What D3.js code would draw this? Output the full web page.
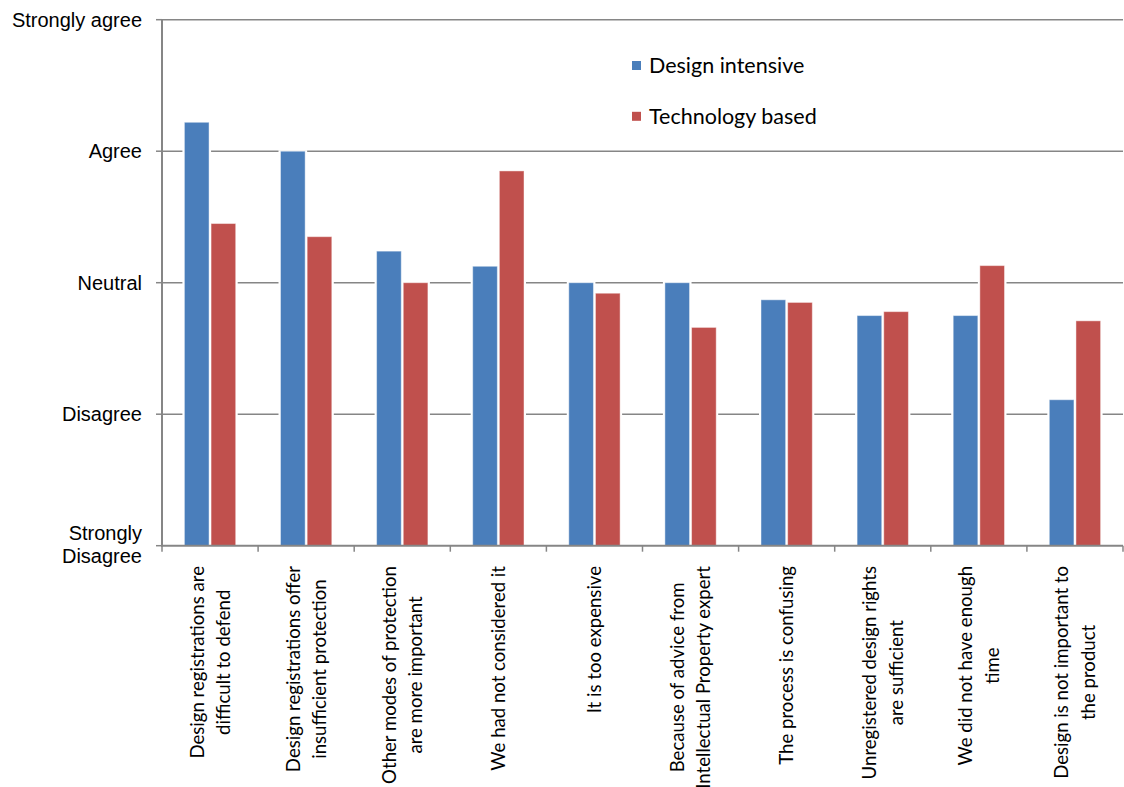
<!DOCTYPE html>
<html>
<head>
<meta charset="utf-8">
<script src="https://cdn.jsdelivr.net/npm/d3@7"></script>
<style>
  html, body { margin: 0; padding: 0; background: #fff; }
  svg { display: block; }
</style>
</head>
<body>
<svg id="chart" width="1124" height="787"></svg>
<script>
// Reasons for not registering designs: mean agreement by firm type (1 = strongly disagree, 5 = strongly agree)
const categories = [
  ["Design registrations are", "difficult to defend"],
  ["Design registrations offer", "insufficient protection"],
  ["Other modes of protection", "are more important"],
  ["We had not considered it"],
  ["It is too expensive"],
  ["Because of advice from", "Intellectual Property expert"],
  ["The process is confusing"],
  ["Unregistered design rights", "are sufficient"],
  ["We did not have enough", "time"],
  ["Design is not important to", "the product"]
];
const seriesNames = ["Design intensive", "Technology based"];
const designIntensive = [4.22, 4.00, 3.24, 3.125, 3.00, 3.00, 2.87, 2.75, 2.75, 2.11];
const technologyBased = [3.45, 3.35, 3.00, 3.85, 2.92, 2.66, 2.85, 2.78, 3.13, 2.71];
const tickValues = [1, 2, 3, 4, 5];
const tickLabels = [["Strongly", "Disagree"], ["Disagree"], ["Neutral"], ["Agree"], ["Strongly agree"]];
const colors = ["#4A7EBB", "#C0504D"];

const svg = d3.select("#chart");
const plotLeft = 162, plotRight = 1123, plotTop = 19.7, plotBottom = 545.7;

const keys = categories.map((c, i) => "c" + i);
const x0 = d3.scaleBand().domain(keys).range([plotLeft, plotRight]).padding(0);
const x1 = d3.scaleBand().domain(seriesNames).range([0, x0.bandwidth()])
  .paddingInner(0.075).paddingOuter(0.84);
const y = d3.scaleLinear().domain([1, 5]).range([plotBottom, plotTop]);

const axisColor = "#868686";

// horizontal gridlines
svg.append("g")
  .selectAll("line")
  .data(tickValues.slice(1))
  .join("line")
  .attr("x1", plotLeft).attr("x2", plotRight)
  .attr("y1", d => y(d)).attr("y2", d => y(d))
  .attr("stroke", axisColor).attr("stroke-width", 1.5);

// bars
const rows = keys.map((k, i) => ({ key: k, values: [designIntensive[i], technologyBased[i]] }));
const groups = svg.append("g").selectAll("g")
  .data(rows).join("g")
  .attr("transform", d => `translate(${x0(d.key)},0)`);

// white halo behind each bar so gridlines stop short of it
groups.selectAll("rect.halo")
  .data(d => d.values.map((v, j) => ({ v, s: seriesNames[j], j })))
  .join("rect")
  .attr("class", "halo")
  .attr("x", d => x1(d.s) - 2)
  .attr("width", x1.bandwidth() + 4)
  .attr("y", d => y(d.v) - 1)
  .attr("height", d => plotBottom - y(d.v) + 1)
  .attr("fill", "#fff");

groups.selectAll("rect.bar")
  .data(d => d.values.map((v, j) => ({ v, s: seriesNames[j], j })))
  .join("rect")
  .attr("class", "bar")
  .attr("x", d => x1(d.s))
  .attr("width", x1.bandwidth())
  .attr("y", d => y(d.v))
  .attr("height", d => plotBottom - y(d.v))
  .attr("fill", d => colors[d.j])
  .attr("stroke", "rgba(255,255,255,0.45)")
  .attr("stroke-width", 1);

// y axis
const yAxis = svg.append("g");
yAxis.append("line")
  .attr("x1", plotLeft).attr("x2", plotLeft)
  .attr("y1", plotTop).attr("y2", plotBottom + 1)
  .attr("stroke", axisColor).attr("stroke-width", 2);
yAxis.selectAll("line.tick")
  .data(tickValues).join("line")
  .attr("class", "tick")
  .attr("x1", plotLeft - 6).attr("x2", plotLeft)
  .attr("y1", d => y(d)).attr("y2", d => y(d))
  .attr("stroke", axisColor).attr("stroke-width", 1.5);
yAxis.selectAll("text")
  .data(tickValues).join("text")
  .attr("x", 142)
  .attr("text-anchor", "end")
  .attr("font-family", "Liberation Sans, Arial, sans-serif")
  .attr("font-size", 20)
  .attr("fill", "#000")
  .each(function(d, i) {
    const lines = tickLabels[i];
    const t = d3.select(this);
    lines.forEach((ln, k) => {
      const base = lines.length === 1 ? y(d) + 7.2 : y(d) - 5.7 + k * 22.7;
      t.append("tspan").attr("x", 142).attr("y", base).text(ln);
    });
  });

// x axis
const xAxis = svg.append("g");
xAxis.append("line")
  .attr("x1", plotLeft - 1).attr("x2", plotRight)
  .attr("y1", plotBottom).attr("y2", plotBottom)
  .attr("stroke", axisColor).attr("stroke-width", 2);
const tickXs = keys.map(k => x0(k)).concat([plotRight]);
xAxis.selectAll("line.tick")
  .data(tickXs).join("line")
  .attr("class", "tick")
  .attr("x1", d => d).attr("x2", d => d)
  .attr("y1", plotBottom).attr("y2", plotBottom + 6)
  .attr("stroke", axisColor).attr("stroke-width", 1.5);

// rotated category labels, lines centred on each other, block starting just below the axis
const labelTop = 566;
const lineGap = 26.3;
categories.forEach((lines, i) => {
  const cx = x0(keys[i]) + x0.bandwidth() / 2;
  const g = xAxis.append("g");
  const texts = lines.map((ln, k) => g.append("text")
    .attr("text-anchor", "middle")
    .attr("font-family", "Lato, 'Noto Sans', sans-serif")
    .attr("font-size", 18.6)
    .attr("fill", "#000")
    .attr("y", (k - (lines.length - 1) / 2) * lineGap)
    .attr("dy", "0.36em")
    .text(ln));
  const maxW = d3.max(texts, t => t.node().getComputedTextLength());
  g.attr("transform", `translate(${cx},${labelTop + maxW / 2}) rotate(-90)`);
});

// legend
const legend = svg.append("g");
const legendBase = [72.7, 123.5];
seriesNames.forEach((name, i) => {
  legend.append("rect")
    .attr("x", 632).attr("y", legendBase[i] - 11.7)
    .attr("width", 9).attr("height", 9)
    .attr("fill", colors[i]);
  legend.append("text")
    .attr("x", 649).attr("y", legendBase[i])
    .attr("font-family", "Lato, 'Noto Sans', sans-serif")
    .attr("font-size", 21.5)
    .attr("fill", "#000")
    .text(name);
});
</script>
</body>
</html>
